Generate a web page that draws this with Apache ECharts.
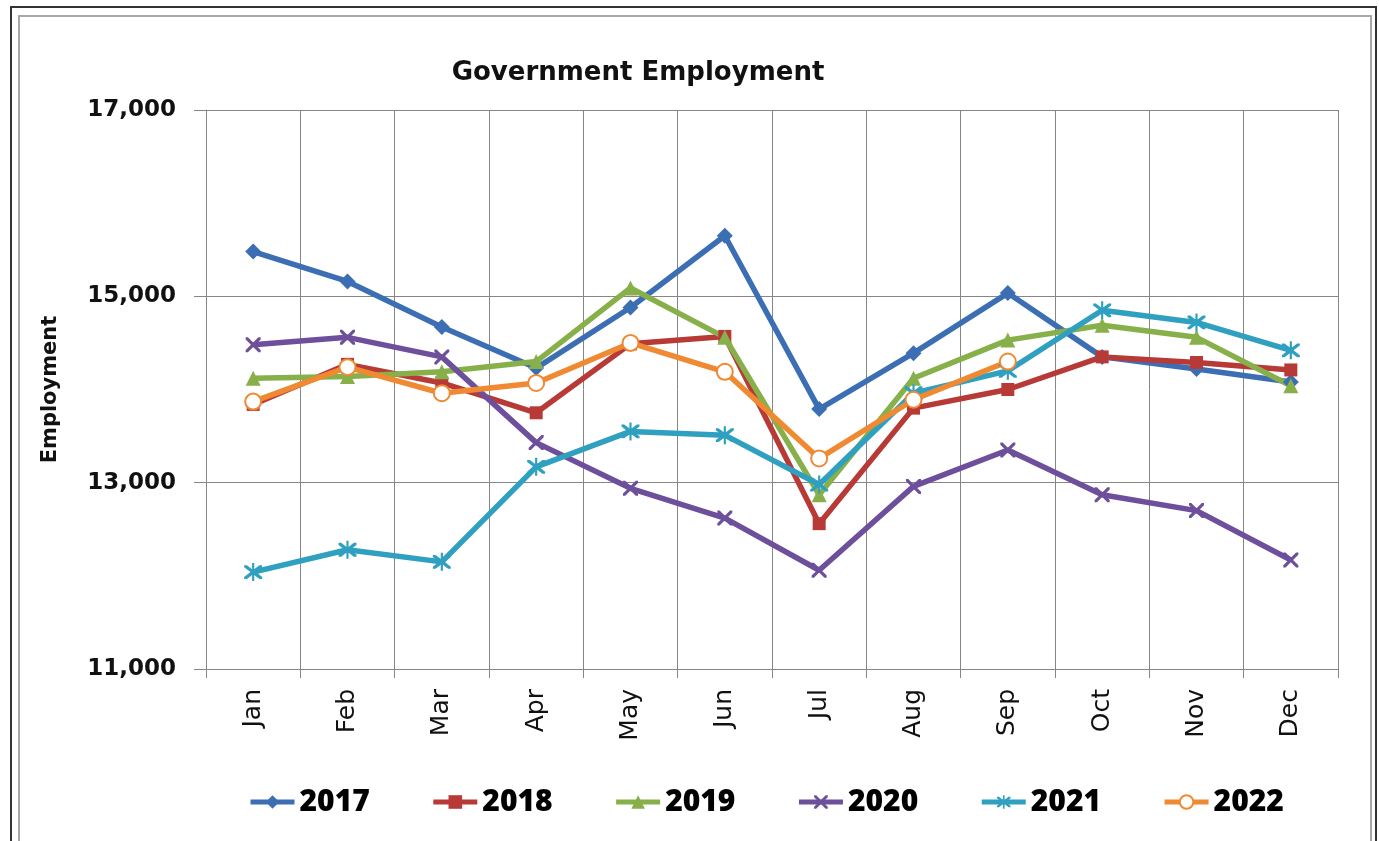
<!DOCTYPE html>
<html>
<head>
	<meta charset="utf-8">
	<title>Government Employment</title>
	<script type="text/javascript" src="https://cdn.jsdelivr.net/npm/echarts@6/dist/echarts.min.js"></script>
	<style>
		html,body{margin:0;padding:0;background:#fff;}
		#main{width:1379px;height:841px;}
	</style>
</head>
<body>
<div id="main"></div>
<script type="text/javascript">
	var months = ['Jan','Feb','Mar','Apr','May','Jun','Jul','Aug','Sep','Oct','Nov','Dec'];
	var years = ['2017','2018','2019','2020','2021','2022'];
	var yTicks = [11000, 13000, 15000, 17000];

	var d2017 = [15480, 15160, 14670, 14230, 14880, 15650, 13790, 14390, 15035, 14350, 14220, 14080];
	var d2018 = [13840, 14270, 14070, 13750, 14490, 14570, 12560, 13800, 14000, 14350, 14290, 14210];
	var d2019 = [14120, 14140, 14190, 14300, 15090, 14560, 12870, 14120, 14530, 14690, 14560, 14040];
	var d2020 = [14480, 14560, 14350, 13430, 12940, 12620, 12060, 12960, 13350, 12870, 12700, 12170];
	var d2021 = [12040, 12280, 12150, 13170, 13550, 13510, 12980, 13960, 14200, 14850, 14720, 14420];
	var d2022 = [13870, 14240, 13960, 14070, 14500, 14190, 13260, 13890, 14300];

	var colors = ['#3C6EB4', '#B73A37', '#87B04A', '#6D4F9B', '#2FA0BF', '#EF8A33'];

	// marker shapes like the old excel ones
	var xMark = 'path://M0,0L3,0L10,7L17,0L20,0L20,3L13,10L20,17L20,20L17,20L10,13L3,20L0,20L0,17L7,10L0,3Z';
	var starMark = 'path://M0,0L3,0L10,7L17,0L20,0L20,3L13,10L20,17L20,20L17,20L10,13L3,20L0,20L0,17L7,10L0,3Z M8.8,-3L11.2,-3L11.2,23L8.8,23Z';
	var marks = ['diamond', 'rect', 'triangle', xMark, starMark, 'emptyCircle'];
	var markSizes = [16, 13, 15, 15, 18, 16];
	var allData = [d2017, d2018, d2019, d2020, d2021, d2022];

	var series = [];
	for (var i = 0; i < years.length; i++) {
		series.push({
			name: years[i],
			type: 'line',
			data: allData[i],
			symbol: marks[i],
			symbolSize: markSizes[i],
			showAllSymbol: true,
			lineStyle: {width: 5.5, color: colors[i]},
			itemStyle: {color: colors[i], borderWidth: i == 5 ? 1.2 : 0},
			emphasis: {disabled: true}
		});
	}

	var myChart = echarts.init(document.getElementById('main'));
	var option = {
		animation: false,
		title: {
			text: 'Government Employment',
			left: 633,
			top: 55,
			textAlign: 'center',
			textStyle: {fontFamily: 'DejaVu Sans', fontWeight: 'bold', fontSize: 26, color: '#111'}
		},
		legend: {
			data: years,
			left: 243,
			top: 782,
			itemWidth: 44,
			itemHeight: 17,
			itemGap: 61,
			lineStyle: {width: 5},
			textStyle: {fontFamily: 'Open Sans', fontWeight: 800, fontSize: 30, color: '#000'}
		},
		grid: {left: 206, right: 41, top: 110, bottom: 172, containLabel: false},
		xAxis: {
			type: 'category',
			data: months,
			boundaryGap: true,
			axisLine: {lineStyle: {color: '#868686', width: 1}},
			axisTick: {show: true, length: 9, interval: 0, lineStyle: {color: '#868686'}},
			splitLine: {show: true, interval: 0, lineStyle: {color: '#868686', width: 1}},
			axisLabel: {
				rotate: 90,
				interval: 0,
				margin: 20,
				fontFamily: 'DejaVu Sans',
				fontSize: 25,
				color: '#111'
			}
		},
		yAxis: {
			type: 'value',
			min: yTicks[0],
			max: yTicks[yTicks.length - 1],
			interval: 2000,
			name: 'Employment',
			nameLocation: 'middle',
			nameGap: 145,
			nameTextStyle: {fontFamily: 'DejaVu Sans', fontWeight: 'bold', fontSize: 21, color: '#111'},
			axisLine: {show: true, lineStyle: {color: '#868686', width: 1}},
			axisTick: {show: true, length: 12, lineStyle: {color: '#868686'}},
			splitLine: {show: true, lineStyle: {color: '#868686', width: 1}},
			axisLabel: {
				margin: 30,
				fontFamily: 'DejaVu Sans',
				fontWeight: 'bold',
				fontSize: 23,
				color: '#111',
				formatter: function (v) { return v.toLocaleString('en-US'); }
			}
		},
		graphic: [
			{type: 'rect', shape: {x: 11, y: 7, width: 1365, height: 860}, style: {fill: 'none', stroke: '#333', lineWidth: 2}, silent: true},
			{type: 'rect', shape: {x: 19, y: 16, width: 1352, height: 860}, style: {fill: 'none', stroke: '#a8a8a8', lineWidth: 2}, silent: true}
		],
		series: series
	};
	myChart.setOption(option);
</script>
</body>
</html>
